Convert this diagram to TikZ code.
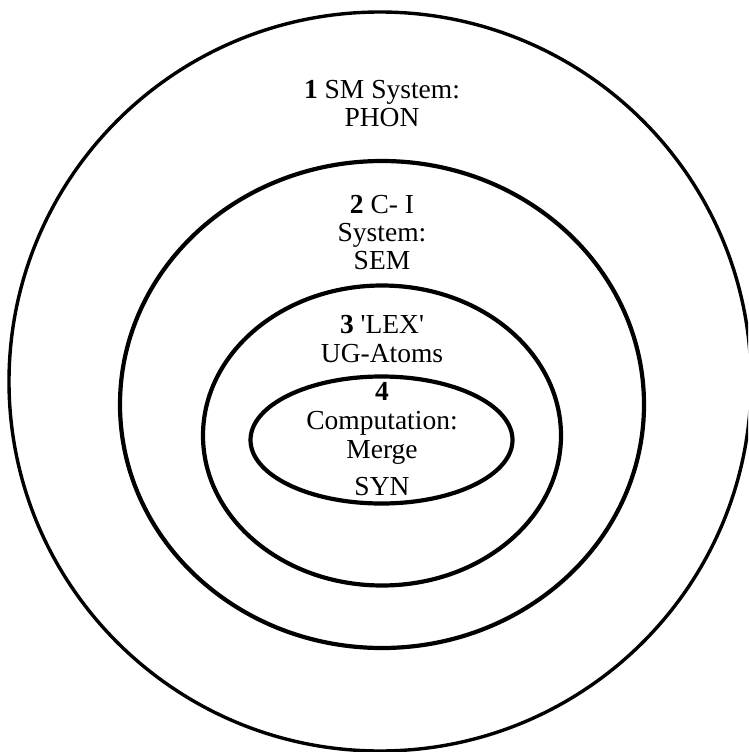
\documentclass[tikz,border=0pt]{standalone}
\usepackage{fontspec}
\setmainfont{Liberation Serif}
\begin{document}
\begin{tikzpicture}[x=1pt,y=-1pt,
  ring/.style={draw=black,line width=4.2pt},
  outerring/.style={draw=black,line width=3.4pt},
  lbl/.style={anchor=base,inner sep=0pt,font=\fontsize{27.5}{29}\selectfont}]
\useasboundingbox (0,0) rectangle (748,752);
\clip (0,0) rectangle (748,752);
\fill[white] (0,0) rectangle (748,752);
% rings
\draw[outerring] (380,381.5) ellipse [x radius=371, y radius=369.5];
\draw[ring] (382,404.5) ellipse [x radius=262, y radius=243.5];
\draw[ring] (382,435.5) ellipse [x radius=179, y radius=150];
\draw[ring] (381.5,440) ellipse [x radius=131, y radius=63.5];
% texts
\node[lbl] (t1a) at (382,98) {\textbf{1} SM System:};
\node[lbl] (t1b) at (382,126) {PHON};
\node[lbl] (t2a) at (382,213) {\textbf{2} C- I};
\node[lbl] (t2b) at (382,241.5) {System:};
\node[lbl] (t2c) at (382,269.5) {SEM};
\node[lbl] (t3a) at (382,333) {\textbf{3} \textquotesingle LEX\textquotesingle};
\node[lbl] (t3b) at (382,362.5) {UG-Atoms};
\node[lbl] (t4a) at (382,400) {\textbf{4}};
\node[lbl] (t4b) at (382,429) {Computation:};
\node[lbl] (t4c) at (382,458) {Merge};
\node[lbl] (t4d) at (382,495) {SYN};
\end{tikzpicture}
\end{document}
